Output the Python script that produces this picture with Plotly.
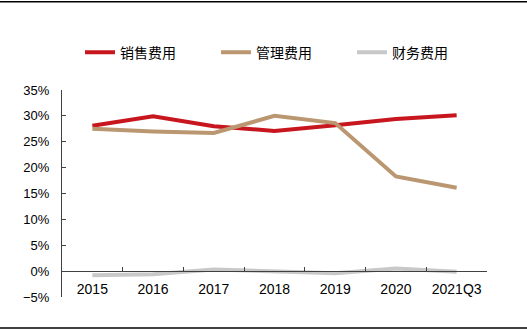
import plotly.graph_objects as go

categories = ["2015", "2016", "2017", "2018", "2019", "2020", "2021Q3"]
sales_exp = [28.1, 29.9, 28.0, 27.1, 28.2, 29.4, 30.1]
admin_exp = [27.5, 27.0, 26.7, 30.0, 28.6, 18.3, 16.1]
fin_exp = [-0.8, -0.6, 0.3, -0.1, -0.4, 0.5, -0.1]
series_names = ["销售费用", "管理费用", "财务费用"]
colors = ["#C8161E", "#BA9770", "#C8C8C8"]

fig = go.Figure()
for name, vals, col in zip(series_names, [sales_exp, admin_exp, fin_exp], colors):
    fig.add_trace(go.Scatter(x=categories, y=vals, name=name, mode="lines",
                             line=dict(color=col, width=4)))

W, H = 527, 332
ml, mr, mt, mb = 62, 40, 89.5, 35
pw, ph = W - ml - mr, H - mt - mb

fig.update_layout(
    width=W, height=H,
    margin=dict(l=ml, r=mr, t=mt, b=mb, pad=0),
    paper_bgcolor="white", plot_bgcolor="white",
    font=dict(family="Liberation Sans, Arial, sans-serif", size=14, color="#000000"),
    legend=dict(orientation="h", x=(80 - ml) / pw, xanchor="left",
                y=(H - mb - 52) / ph, yanchor="middle",
                entrywidth=91, entrywidthmode="pixels",
                font=dict(family="Noto Sans CJK SC", size=14),
                bgcolor="rgba(0,0,0,0)"),
    xaxis=dict(type="category", anchor="free", position=5 / 40,
               showline=True, linecolor="#404040", linewidth=1,
               ticks="inside", ticklen=4, tickcolor="#404040",
               tickson="boundaries", showgrid=False, zeroline=False,
               ticklabelstandoff=5, tickfont=dict(size=14),
               range=[-0.5, 6.5]),
    yaxis=dict(range=[-5, 35], dtick=5, ticksuffix="%",
               showline=True, linecolor="#404040", linewidth=1,
               ticks="inside", ticklen=4, tickcolor="#404040",
               showgrid=False, zeroline=False,
               ticklabelstandoff=9, tickfont=dict(size=13)),
    showlegend=True,
)

# frame lines at top and bottom of the image
x0p, x1p = -ml / pw, (W - ml) / pw
for ypx in (1, 328):
    yp = (H - mb - ypx) / ph
    fig.add_shape(type="line", xref="paper", yref="paper", x0=x0p, x1=x1p,
                  y0=yp, y1=yp, line=dict(color="black", width=1.5))

fig.write_html("out.html")
